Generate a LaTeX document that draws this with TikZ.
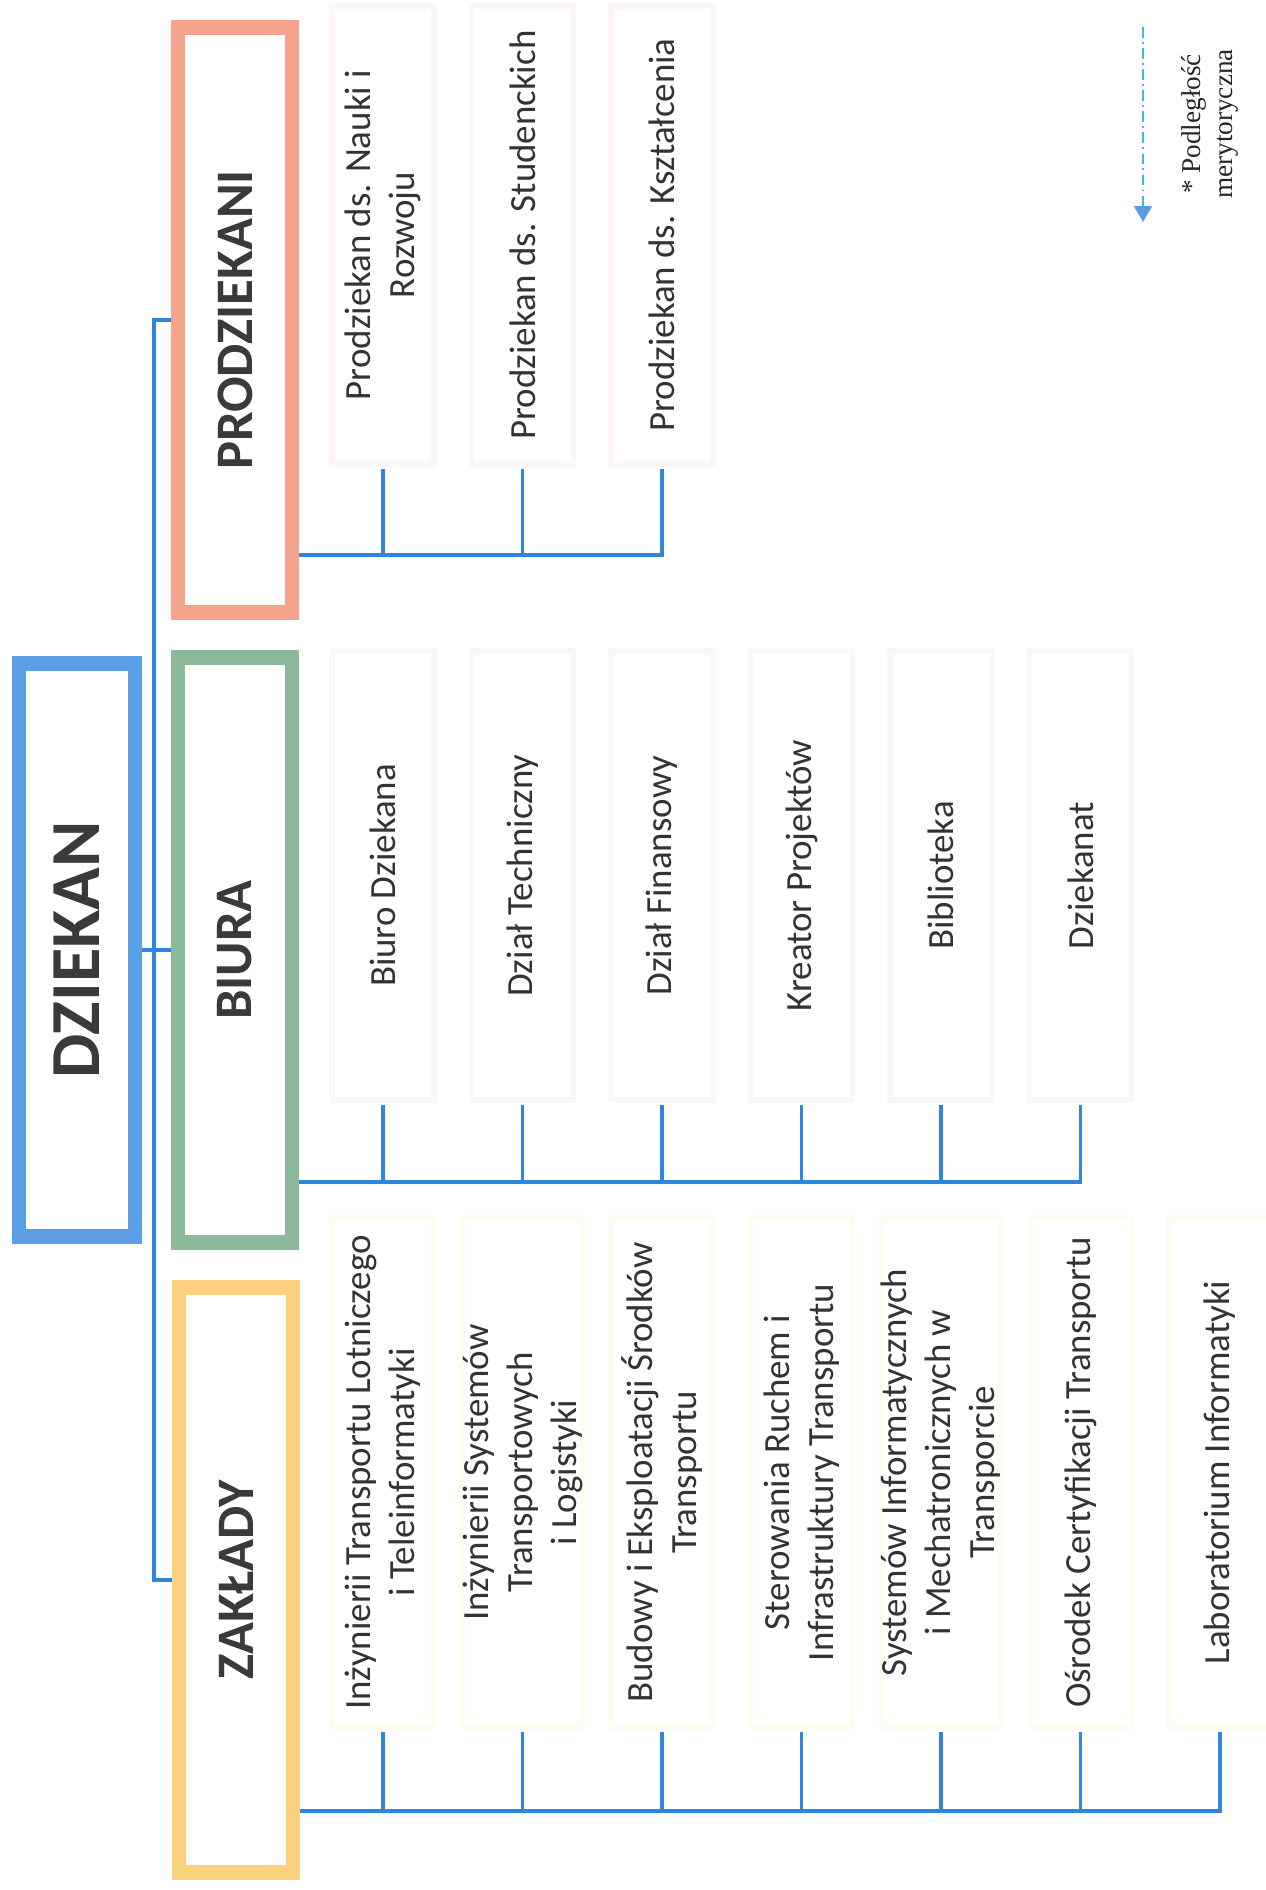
\documentclass[tikz,border=0pt]{standalone}
\usepackage{fontspec}
\setmainfont{Carlito}
\newfontfamily\legfont{Liberation Serif}
\usetikzlibrary{arrows.meta}
\definecolor{dzblue}{HTML}{5B9FE6}
\definecolor{prsalmon}{HTML}{F4A38D}
\definecolor{bigreen}{HTML}{8DB99B}
\definecolor{zayellow}{HTML}{FBD07F}
\definecolor{connblue}{HTML}{2E86DE}
\definecolor{hdrtext}{HTML}{3A3A3A}
\definecolor{childtext}{HTML}{333333}
\definecolor{pfaint}{HTML}{FDF6F6}
\definecolor{bfaint}{HTML}{F5F9F8}
\definecolor{zfaint}{HTML}{FDFCF1}
\definecolor{legcyan}{HTML}{45B5E8}
\definecolor{legblue}{HTML}{5B9BE0}
\begin{document}
\begin{tikzpicture}[x=0.02cm,y=-0.02cm,
  hdr/.style={draw, line width=8.5pt, rotate=90, fill=white, text=hdrtext,
    font=\bfseries\fontsize{30}{36}\selectfont,
    minimum width=11.72cm, minimum height=2.28cm, inner sep=0pt},
  child/.style={rotate=90, align=center, text=childtext,
    font=\fontsize{21}{25}\selectfont, line width=3pt, fill=white,
    inner sep=0pt, outer sep=3pt, minimum height=2.04cm},
  pchild/.style={child, draw=pfaint, minimum width=9.16cm},
  bchild/.style={child, draw=bfaint, minimum width=8.98cm},
  zchild/.style={child, draw=zfaint, minimum width=10.18cm},
  conn/.style={draw=connblue, line width=2pt},
  legline/.style={draw=legcyan, line width=1.4pt,
    dash pattern=on 6pt off 2.5pt on 1pt off 2.5pt,
    -{Triangle[length=9pt,width=10pt,color=legblue]}},
]
\useasboundingbox (0,0) rectangle (1266,1890);

% header boxes
\node[hdr, draw=dzblue, minimum width=11.46cm, minimum height=2.32cm,
      font=\bfseries\fontsize{40}{48}\selectfont] (dziekan) at (77,950) {DZIEKAN};
\node[hdr, draw=prsalmon] (prodz) at (235,320) {PRODZIEKANI};
\node[hdr, draw=bigreen] (biura) at (235,950) {BIURA};
\node[hdr, draw=zayellow] (zak) at (236,1580) {ZAKŁADY};

% prodziekani children
\node[pchild] (p1) at (383,235) {Prodziekan ds. Nauki i\\Rozwoju};
\node[pchild] (p2) at (522.5,235) {Prodziekan ds. Studenckich};
\node[pchild] (p3) at (662,235) {Prodziekan ds. Kształcenia};

% biura children
\node[bchild] (b1) at (383,875.5) {Biuro Dziekana};
\node[bchild] (b2) at (522.5,875.5) {Dział Techniczny};
\node[bchild] (b3) at (662,875.5) {Dział Finansowy};
\node[bchild] (b4) at (801.5,875.5) {Kreator Projektów};
\node[bchild] (b5) at (941,875.5) {Biblioteka};
\node[bchild] (b6) at (1080.5,875.5) {Dziekanat};

% zaklady children
\node[zchild] (z1) at (383,1472.5) {Inżynierii Transportu Lotniczego\\i Teleinformatyki};
\node[zchild] (z2) at (522.5,1472.5) {Inżynierii Systemów\\Transportowych\\i Logistyki};
\node[zchild] (z3) at (662,1472.5) {Budowy i Eksploatacji Środków\\Transportu};
\node[zchild] (z4) at (801.5,1472.5) {Sterowania Ruchem i\\Infrastruktury Transportu};
\node[zchild] (z5) at (941,1472.5) {Systemów Informatycznych\\i Mechatronicznych w\\Transporcie};
\node[zchild] (z6) at (1080.5,1472.5) {Ośrodek Certyfikacji Transportu};
\node[zchild] (z7) at (1220,1472.5) {Laboratorium Informatyki};

% trunk
\coordinate (trunk) at (154,0);
\draw[conn] (prodz.north) -- (prodz.north -| trunk) -- (zak.north -| trunk) -- (zak.north);
\draw[conn] (dziekan.south) -- (biura.north);

% buses
\coordinate (pbus) at (0,555);
\coordinate (bbus) at (0,1182);
\coordinate (zbus) at (0,1811);
\foreach \n in {p1,p2} \draw[conn] (\n.west) -- (\n.west |- pbus);
\draw[conn] (p3.west) -- (p3.west |- pbus) -- (prodz.south |- pbus);
\foreach \n in {b1,b2,b3,b4,b5} \draw[conn] (\n.west) -- (\n.west |- bbus);
\draw[conn] (b6.west) -- (b6.west |- bbus) -- (biura.south |- bbus);
\foreach \n in {z1,z2,z3,z4,z5,z6} \draw[conn] (\n.west) -- (\n.west |- zbus);
\draw[conn] (z7.west) -- (z7.west |- zbus) -- (zak.south |- zbus);

% legend
\coordinate (lgA) at (1143,27);
\coordinate (lgB) at (1143,222);
\draw[legline] (lgA) -- (lgB);
\node[rotate=90, align=center, text=black!85,
      font=\legfont\fontsize{15.5}{18}\selectfont] (legtxt) at (1210,124) {* Podległość\\merytoryczna};
\end{tikzpicture}
\end{document}
